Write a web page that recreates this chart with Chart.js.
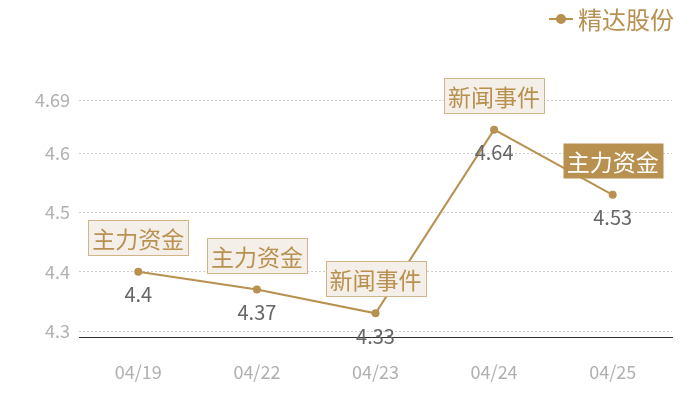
<!DOCTYPE html>
<html><head><meta charset="utf-8">
<script src="https://cdn.jsdelivr.net/npm/chart.js@4/dist/chart.umd.min.js"></script>
<style>html,body{margin:0;padding:0;background:#fff}#wrap{width:700px;height:400px}</style>
</head><body><div id="wrap"><canvas id="c" width="700" height="400"></canvas></div>
<script>
const categories = ['04/19','04/22','04/23','04/24','04/25'];
const seriesName = '精达股份';
const values = [4.4, 4.37, 4.33, 4.64, 4.53];
const eventLabels = ['主力资金','主力资金','新闻事件','新闻事件','主力资金'];
const highlighted = [false,false,false,false,true];
const yTicks = [4.3, 4.4, 4.5, 4.6, 4.69];
const yMin = 4.29, yMax = 4.69;

const GOLD = '#b8904f';
const FONT = '"Noto Sans CJK SC", "Noto Sans", sans-serif';

const overlay = {
  id: 'overlay',
  afterDatasetsDraw(chart) {
    const ctx = chart.ctx;
    const meta = chart.getDatasetMeta(0);
    ctx.save();
    meta.data.forEach((pt, i) => {
      const x = pt.x, y = pt.y;
      ctx.font = '20px ' + FONT;
      ctx.fillStyle = '#666';
      ctx.textAlign = 'center';
      ctx.textBaseline = 'middle';
      ctx.fillText(String(values[i]), x, y + 23);
      ctx.font = '23px ' + FONT;
      const tw = ctx.measureText(eventLabels[i]).width;
      const bw = tw + 8, bh = 35;
      const bx = Math.round(x - bw / 2) + 0.5, by = Math.round(y - 34.5 - bh / 2) + 0.5;
      if (highlighted[i]) {
        ctx.fillStyle = GOLD;
        ctx.fillRect(bx, by, bw, bh);
        ctx.fillStyle = '#fff';
      } else {
        ctx.fillStyle = '#f4efe8';
        ctx.fillRect(bx, by, bw, bh);
        ctx.strokeStyle = '#d2b489';
        ctx.lineWidth = 1;
        ctx.strokeRect(bx, by, bw, bh);
        ctx.fillStyle = GOLD;
      }
      ctx.fillText(eventLabels[i], x, by + bh / 2 + 1);
    });
    // legend
    ctx.strokeStyle = GOLD;
    ctx.lineWidth = 2;
    ctx.beginPath(); ctx.moveTo(549, 19); ctx.lineTo(573, 19); ctx.stroke();
    ctx.fillStyle = GOLD;
    ctx.beginPath(); ctx.arc(561, 19, 5, 0, Math.PI * 2); ctx.fill();
    ctx.font = '24px ' + FONT;
    ctx.textAlign = 'left';
    ctx.textBaseline = 'middle';
    ctx.fillText(seriesName, 578, 20);
    ctx.restore();
  }
};

new Chart(document.getElementById('c'), {
  type: 'line',
  data: {
    labels: categories,
    datasets: [{
      label: seriesName,
      data: values,
      borderColor: GOLD,
      backgroundColor: GOLD,
      borderWidth: 2,
      pointRadius: 4,
      pointBackgroundColor: GOLD,
      pointBorderWidth: 0,
      tension: 0,
      clip: false
    }]
  },
  options: {
    responsive: false,
    animation: false,
    devicePixelRatio: 1,
    layout: { padding: { top: 100, right: 28, left: 0, bottom: 0 } },
    plugins: { legend: { display: false }, tooltip: { enabled: false } },
    scales: {
      x: {
        offset: true,
        grid: { display: false, drawTicks: false },
        border: { display: true, color: '#333', width: 1 },
        ticks: { color: '#b0b0b0', font: { size: 18, family: FONT }, padding: 24 },
        afterFit(axis) { axis.height = 63; }
      },
      y: {
        min: yMin, max: yMax,
        afterBuildTicks(axis) { axis.ticks = yTicks.map(v => ({ value: v })); },
        afterFit(axis) { axis.width = 79; },
        grid: { color: '#cccccc', drawTicks: false, lineWidth: 1 },
        border: { display: false, dash: [2, 2] },
        ticks: { color: '#b0b0b0', font: { size: 18, family: FONT }, padding: 9,
          callback: v => String(v) }
      }
    }
  },
  plugins: [overlay]
});
</script></body></html>
